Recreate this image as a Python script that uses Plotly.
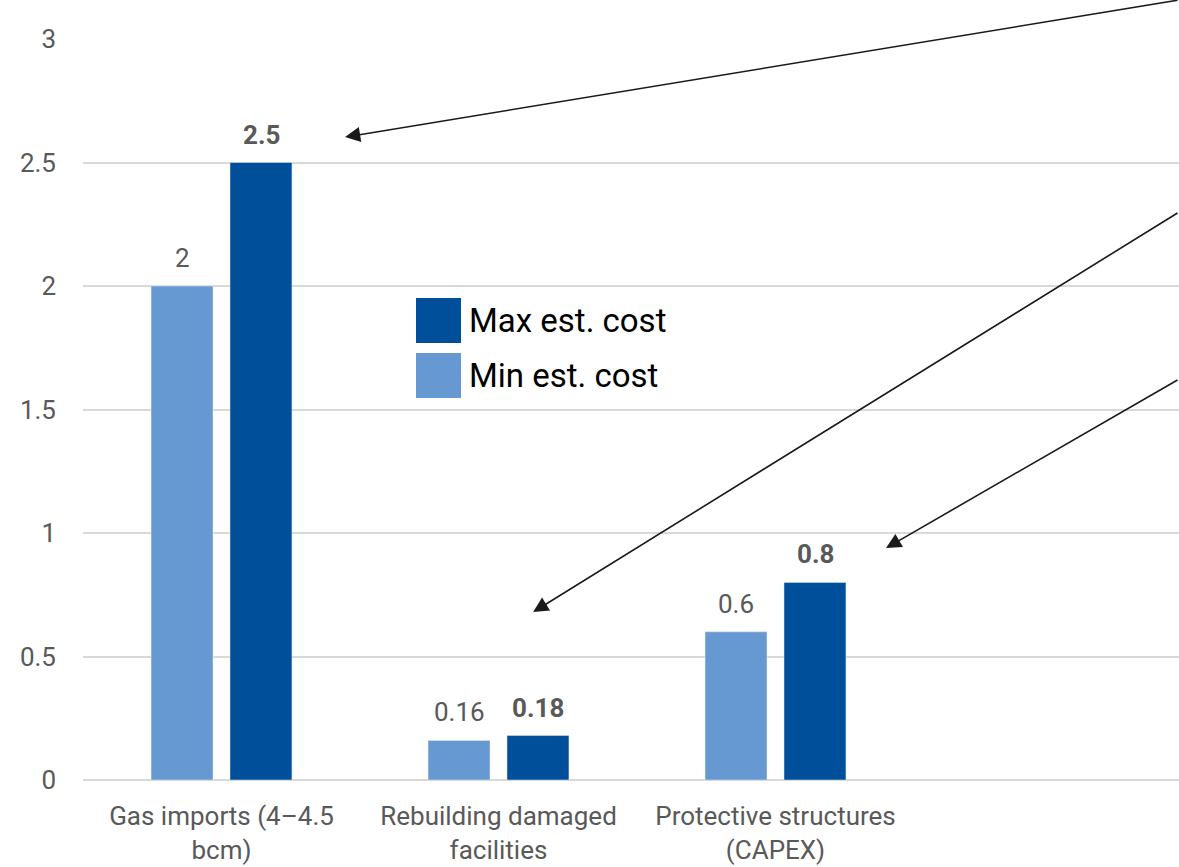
import plotly.graph_objects as go

# Cost estimates per item (min / max)
categories = ["Gas imports (4–4.5<br>bcm)", "Rebuilding damaged<br>facilities", "Protective structures<br>(CAPEX)"]
min_cost = [2, 0.16, 0.6]
max_cost = [2.5, 0.18, 0.8]
y_ticks = [0, 0.5, 1, 1.5, 2, 2.5, 3]

LIGHT = "#6699D1"
DARK = "#004F9A"
GRAY = "#595959"
FONT = "Roboto"

x_idx = list(range(len(categories)))
OFF = 0.1426  # half-distance between paired bar centres, in category units

fig = go.Figure()
fig.add_trace(go.Bar(x=x_idx, y=min_cost, marker_color=LIGHT, name="Min est. cost",
                     showlegend=False, hoverinfo="skip"))
fig.add_trace(go.Bar(x=x_idx, y=max_cost, marker_color=DARK, name="Max est. cost",
                     showlegend=False, hoverinfo="skip"))

ann = []
# value labels above the bars
for i, v in enumerate(min_cost):
    ann.append(dict(x=i - OFF, y=v, xref="x", yref="y", text=f"{v:g}", showarrow=False,
                    yanchor="bottom", yshift=11, font=dict(family=FONT, size=26, color=GRAY)))
for i, v in enumerate(max_cost):
    ann.append(dict(x=i + OFF, y=v, xref="x", yref="y", text=f"<b>{v:g}</b>", showarrow=False,
                    yanchor="bottom", yshift=11, font=dict(family=FONT, size=26, color=GRAY)))

# pointer arrows coming in from the right edge
arrows = [
    (0.446, 2.603, 850, -142),
    (1.125, 0.680, 657, -400),
    (2.399, 0.939, 304, -169),
]
for x, y, ax, ay in arrows:
    ann.append(dict(x=x, y=y, xref="x", yref="y", ax=ax, ay=ay, axref="pixel", ayref="pixel",
                    text="", showarrow=True, arrowhead=2, arrowsize=1.9, arrowwidth=1.6,
                    arrowcolor="#1a1a1a"))

# custom legend: large swatches with text
legend_items = [("Max est. cost", DARK, 320.5), ("Min est. cost", LIGHT, 375.5)]
shapes = []
for label, col, yc in legend_items:
    yp0 = 1 - (yc - 22.5 - 39) / 741
    yp1 = 1 - (yc + 22.5 - 39) / 741
    xp0 = (416 - 83) / 1096
    xp1 = (461 - 83) / 1096
    shapes.append(dict(type="rect", xref="paper", yref="paper", x0=xp0, x1=xp1,
                       y0=yp1, y1=yp0, fillcolor=col, line=dict(width=0)))
    ann.append(dict(x=(467 - 83) / 1096, y=1 - (yc - 39) / 741, xref="paper", yref="paper",
                    text=label, showarrow=False, xanchor="left", yanchor="middle",
                    font=dict(family=FONT, size=33, color="#000000")))

fig.update_layout(
    width=1179, height=867,
    margin=dict(l=83, r=0, t=39, b=87),
    plot_bgcolor="white", paper_bgcolor="white",
    barmode="group", bargap=0.43, bargroupgap=0.215,
    showlegend=False,
    annotations=ann, shapes=shapes,
    font=dict(family=FONT, color=GRAY),
)
fig.update_xaxes(
    range=[-0.5, -0.5 + 1096 / 277],
    tickvals=x_idx, ticktext=categories,
    showgrid=False, zeroline=False, showline=False, ticks="",
    ticklabelstandoff=18, automargin=False,
    tickfont=dict(family=FONT, size=26, color=GRAY),
)
fig.update_yaxes(
    range=[0, 3], tickvals=y_ticks, ticktext=[f"{t:g}" for t in y_ticks],
    showgrid=True, gridcolor="#D9D9D9", gridwidth=1.5,
    zeroline=True, zerolinecolor="#D9D9D9", zerolinewidth=1.5,
    showline=False, ticks="", ticklabelstandoff=26, automargin=False,
    tickfont=dict(family=FONT, size=26, color=GRAY),
)

fig.write_html("out.html")
